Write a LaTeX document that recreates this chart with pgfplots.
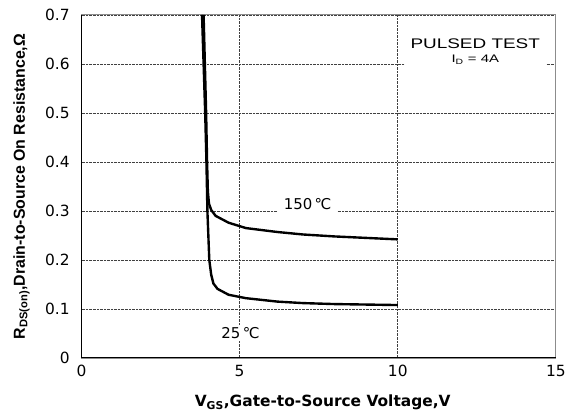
\documentclass[border=0pt]{standalone}
\usepackage{pgfplots}
\pgfplotsset{compat=1.18}
\usepackage{fontspec}
\setmainfont{Liberation Sans}
\newfontfamily\dv{DejaVu Sans}
\begin{document}
\begin{tikzpicture}
\begin{axis}[
scale only axis,
width=477pt, height=345pt,
xmin=0, xmax=15, ymin=0, ymax=0.7,
ytick={0,0.1,...,0.7},
yticklabels={0,0.1,0.2,0.3,0.4,0.5,0.6,0.7},
xtick={5,10}, extra x ticks={0,15},
extra x tick style={grid=none},
/pgf/number format/assume math mode=true,
ticklabel style={font=\dv\fontsize{15.5}{15.5}\selectfont},
yticklabel style={xshift=-8.5pt},
xticklabel style={yshift=-4pt},
major tick length=0pt,
axis line style={black!45, line width=0.9pt},
xmajorgrids, ymajorgrids,
grid style={black!75, densely dotted, line width=0.6pt},
xlabel={\dv\bfseries V\textsubscript{GS},Gate-to-Source Voltage,V},
ylabel={\bfseries R\textsubscript{DS(on)},Drain-to-Source On Resistance,Ω},
xlabel style={font=\fontsize{15.5}{15.5}\selectfont, yshift=-10.5pt, xshift=4pt},
ylabel style={font=\fontsize{16}{16}\selectfont, yshift=8.5pt},
clip=false,
]
\addplot[black, line width=2.4pt] coordinates {
(3.81,0.70) (3.86,0.6) (3.91,0.5) (3.95,0.4) (3.98,0.3) (4.01,0.25) (4.04,0.2)
(4.1,0.17) (4.17,0.152) (4.3,0.141) (4.65,0.129) (5.2,0.122) (6.2,0.115) (7,0.112)
(8,0.110) (9,0.109) (10,0.108)};
\addplot[black, line width=2.4pt] coordinates {
(3.86,0.70) (3.90,0.6) (3.94,0.5) (3.97,0.4) (3.995,0.34) (4.03,0.315) (4.1,0.302)
(4.24,0.29) (4.65,0.276) (5.2,0.265) (6.2,0.257) (7,0.252) (8,0.248) (9,0.245) (10,0.242)};
\draw[black, line width=1pt] (rel axis cs:0,1) -- (rel axis cs:0,0) -- (rel axis cs:1,0);
\node[fill=white, inner xsep=6pt, inner ysep=2pt, font=\dv\fontsize{15}{15}\selectfont] at (axis cs:7.15,0.314) {150\,℃};
\node[fill=white, inner sep=2pt, font=\dv\fontsize{15}{15}\selectfont] at (axis cs:5.03,0.05) {25\,℃};
\node[fill=white, inner xsep=6pt, inner ysep=3pt, align=center, font=\fontsize{14}{15}\selectfont] at (axis cs:12.45,0.625)
{\scalebox{1.36}[1]{PULSED TEST}\\[-1pt] \scalebox{1.36}[1]{\fontsize{11}{11}\selectfont I\textsubscript{D} = 4A}};
\path (rel axis cs:0,0) ++(-82pt,-58pt);
\path (rel axis cs:1,1) ++(10pt,15pt);
\end{axis}
\end{tikzpicture}
\end{document}
